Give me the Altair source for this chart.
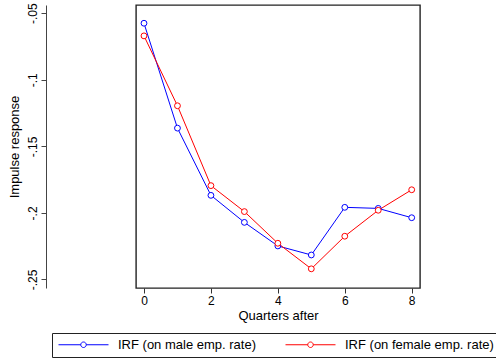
import altair as alt
import pandas as pd

quarters = [0, 1, 2, 3, 4, 5, 6, 7, 8]
male_irf = [-0.0575, -0.1363, -0.1868, -0.2071, -0.2248, -0.2316, -0.1958, -0.1966, -0.2036]
female_irf = [-0.0670, -0.1195, -0.1795, -0.1990, -0.2228, -0.2420, -0.2175, -0.1980, -0.1826]
series_names = ["IRF (on male emp. rate)", "IRF (on female emp. rate)"]
series_colors = ["#0000ff", "#ff0000"]
x_ticks = [0, 2, 4, 6, 8]
y_ticks = [-0.25, -0.2, -0.15, -0.1, -0.05]

rows = []
for name, vals in zip(series_names, [male_irf, female_irf]):
    for q, v in zip(quarters, vals):
        rows.append({"q": q, "v": v, "series": name})
df = pd.DataFrame(rows)

FONT = "Liberation Sans"
legend_symbol = ("M-5,0L-0.55,0M0.55,0L5,0"
                 "M-0.55,0A0.55,0.55,0,1,0,0.55,0A0.55,0.55,0,1,0,-0.55,0")

chart = alt.Chart(df).mark_line(
    strokeWidth=1,
    point=alt.OverlayMarkDef(filled=False, fill="white", size=34, strokeWidth=1),
).encode(
    x=alt.X("q:Q",
            scale=alt.Scale(domain=[-0.239, 8.248], nice=False, zero=False),
            axis=alt.Axis(values=x_ticks, title="Quarters after", grid=False, domain=False,
                          tickSize=5, tickColor="#333333", labelPadding=2, titlePadding=3,
                          labelFontSize=12, titleFontSize=13, labelFont=FONT, titleFont=FONT,
                          labelColor="black", titleColor="black", titleFontWeight="normal")),
    y=alt.Y("v:Q",
            scale=alt.Scale(domain=[-0.2564, -0.0438], nice=False, zero=False),
            axis=alt.Axis(values=y_ticks, title="Impulse response", grid=False, offset=90,
                          labelExpr="(datum.value < 0 ? '-' : '') + replace(format(abs(datum.value), '.2~f'), '0.', '.')",
                          labelAngle=-90, labelAlign="center", labelBaseline="bottom",
                          domainColor="#444444", tickColor="#444444", tickSize=5,
                          labelPadding=2, titlePadding=5,
                          labelFontSize=12, titleFontSize=13, labelFont=FONT, titleFont=FONT,
                          labelColor="black", titleColor="black", titleFontWeight="normal")),
    color=alt.Color("series:N",
                    scale=alt.Scale(domain=series_names, range=series_colors),
                    legend=alt.Legend(title=None, orient="none", legendX=-84, legendY=328,
                                      direction="horizontal", strokeColor="#222222",
                                      fillColor="white", padding=5, cornerRadius=0,
                                      symbolType=legend_symbol, symbolSize=100,
                                      symbolStrokeWidth=1, symbolFillColor="white",
                                      symbolOffset=20, labelOffset=28, columnPadding=27,
                                      labelFont=FONT, labelFontSize=13, labelColor="black")),
).properties(
    width=284, height=283,
    autosize=alt.AutoSizeParams(type="none"),
    padding={"left": 136, "top": 5, "right": 76, "bottom": 72},
).configure(
    background="white",
    view=alt.ViewConfig(stroke="#222222", strokeWidth=1.4),
)

chart.save("out.html", embed_options={"renderer": "svg", "actions": False})
